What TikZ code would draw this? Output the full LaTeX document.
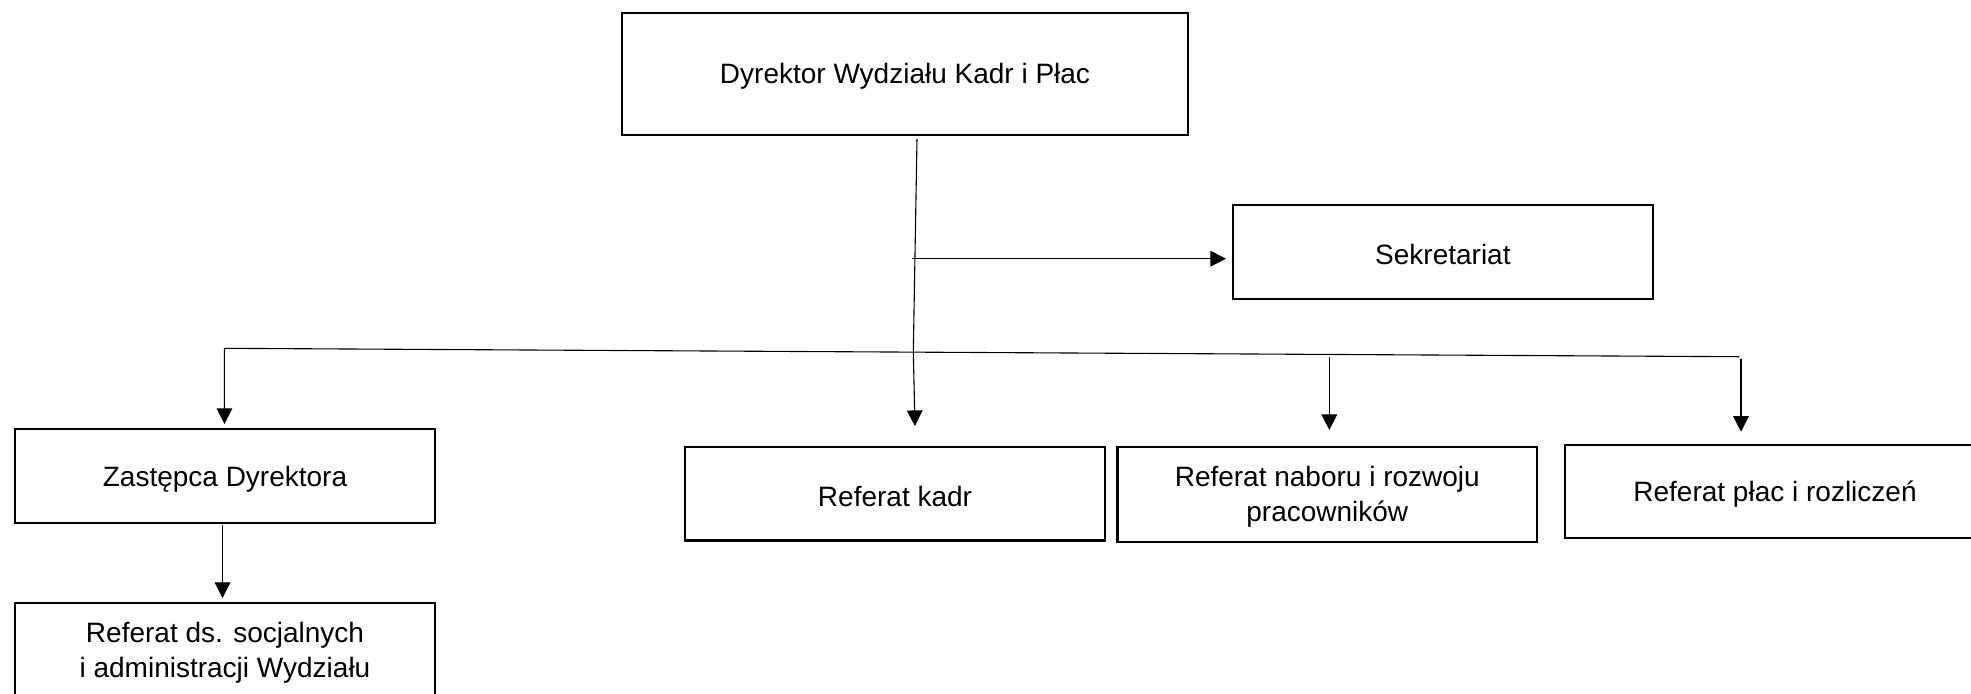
\documentclass[tikz,border=0pt]{standalone}
\usepackage{fontspec}
\setmainfont{Liberation Sans}
\usetikzlibrary{arrows.meta}
\tikzset{
  unitbox/.style={draw=black, line width=1.1pt, inner sep=0pt},
  boxtext/.style={inner sep=0pt, align=center, yshift=-1.3pt,
    font=\fontsize{14}{17.5}\selectfont},
  conn/.style={draw=black, line width=0.55pt},
  arr/.style={conn, -{Triangle[length=7.8pt,width=7.8pt]}},
}
\begin{document}
\begin{tikzpicture}[x=0.5pt, y=-0.5pt]
\useasboundingbox (0,0) rectangle (1971,693);
\clip (0,0) rectangle (1971,693);
% boxes
\node[unitbox, minimum width=283pt, minimum height=61.2pt,
  label={[boxtext]center:Dyrektor Wydziału Kadr i Płac}] (dyr) at (905,73.8) {};
\node[unitbox, minimum width=210.2pt, minimum height=46.9pt,
  label={[boxtext]center:Sekretariat}] (sek) at (1442.9,252.2) {};
\node[unitbox, minimum width=210pt, minimum height=46.9pt,
  label={[boxtext]center:Zastępca Dyrektora}] (zas) at (225,476.2) {};
\node[unitbox, minimum width=210pt, minimum height=47pt,
  label={[boxtext]center:{Referat ds. socjalnych\\i administracji Wydziału}}] (soc) at (225,650) {};
\node[unitbox, minimum width=210pt, minimum height=46.9pt,
  label={[boxtext]center:Referat kadr}] (kad) at (895,493.6) {};
\node[unitbox, minimum width=209.8pt, minimum height=47.2pt,
  label={[boxtext]center:{Referat naboru i rozwoju\\pracowników}}] (nab) at (1327.3,494.5) {};
\node[unitbox, minimum width=210pt, minimum height=46.5pt,
  label={[boxtext]center:Referat płac i rozliczeń}] (pla) at (1775,491.5) {};
% connector points
\coordinate (t0) at (917,139);
\coordinate (j) at (913.3,352.3);
\coordinate (s0) at (912,258.7);
\coordinate (s1) at (1226,258.7);
\coordinate (b0) at (224.3,348.3);
\coordinate (b1) at (1739,356.7);
\coordinate (zt) at (224.5,424);
\coordinate (kt) at (915,426);
\coordinate (n0) at (1329.3,356.7);
\coordinate (nt) at (1329.3,430);
\coordinate (p0) at (1741,359.3);
\coordinate (pt) at (1741,431.7);
\coordinate (z0) at (222.5,524.5);
\coordinate (st) at (222.5,598);
% connectors
\draw[conn] (t0) -- (j);
\draw[arr] (s0) -- (s1);
\draw[conn] (b0) -- (b1);
\draw[arr] (b0) -- (zt);
\draw[arr] (j) -- (kt);
\draw[arr] (n0) -- (nt);
\draw[arr] (p0) -- (pt);
\draw[arr] (z0) -- (st);
\end{tikzpicture}
\end{document}
